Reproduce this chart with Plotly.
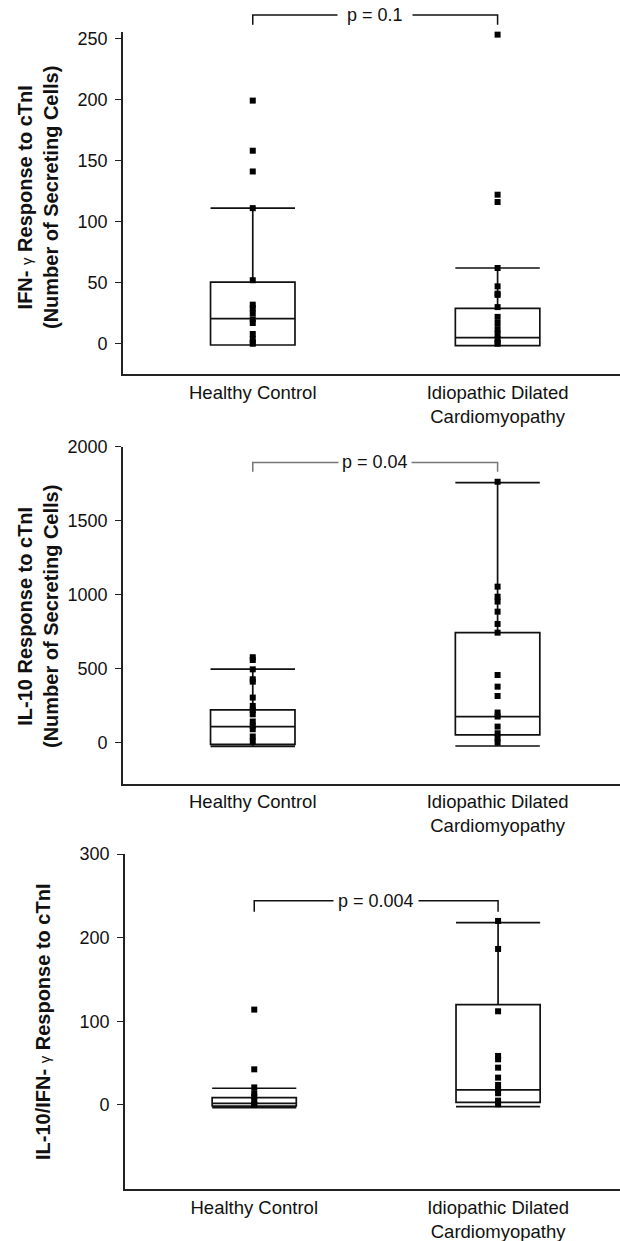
import plotly.graph_objects as go

# ---------------- data ----------------
categories = ["Healthy Control", "Idiopathic Dilated<br>Cardiomyopathy"]
cat_pos = [0, 1]

# Panel 1: IFN-gamma response
ifn_hc_points = [199, 158, 141, 111, 52, 32, 29, 25, 20, 17, 8, 4, 1, 0]
ifn_idc_points = [253, 122, 116, 62, 47, 41, 40, 30, 22, 17, 12, 8, 4, 1, 0]
ifn_q1 = [-1, -1.5]
ifn_median = [20.5, 5]
ifn_q3 = [50.5, 29]
ifn_lower = [-1, -1.5]
ifn_upper = [111, 62]
ifn_ticks = [0, 50, 100, 150, 200, 250]
ifn_p = "p = 0.1"
ifn_bracket = [269, 261]

# Panel 2: IL-10 response
il10_hc_points = [577, 558, 495, 428, 412, 304, 248, 221, 191, 142, 113, 90, 41, 7]
il10_idc_points = [1763, 1054, 986, 953, 885, 802, 743, 457, 378, 315, 203, 176, 108, 63, 29, 0]
il10_q1 = [-12, 52]
il10_median = [108, 176]
il10_q3 = [221, 743]
il10_lower = [-25, -23]
il10_upper = [496, 1757]
il10_ticks = [0, 500, 1000, 1500, 2000]
il10_p = "p = 0.04"
il10_bracket = [1894, 1831]

# Panel 3: IL-10 / IFN-gamma ratio
ratio_hc_points = [114, 42.6, 21, 14, 10, 5, 1, 0]
ratio_idc_points = [220, 186.5, 112, 58.6, 54.6, 44.6, 32.7, 24, 18.7, 14, 5.2, 0.8]
ratio_q1 = [-1.2, 3]
ratio_median = [2, 18]
ratio_q3 = [8.8, 120]
ratio_lower = [-3.2, -2]
ratio_upper = [20, 218]
ratio_ticks = [0, 100, 200, 300]
ratio_p = "p = 0.004"
ratio_bracket = [244, 231]

titles = [
    "<b>IFN-</b> <span style='font-size:15px'>γ</span> <b>Response to cTnI</b><br><b>(Number of Secreting Cells)</b>",
    "<b>IL-10 Response to cTnI</b><br><b>(Number of Secreting Cells)</b>",
    "<b>IL-10/IFN-</b> <span style='font-size:15px'>γ</span> <b>Response to cTnI</b>",
]

# ---------------- layout params ----------------
FONT = "Liberation Sans, Arial, sans-serif"
W, H = 620, 1241
panels = [
    dict(hc=ifn_hc_points, idc=ifn_idc_points, q1=ifn_q1, med=ifn_median, q3=ifn_q3,
         lo=ifn_lower, hi=ifn_upper, ticks=ifn_ticks, yrange=[-25, 255], p=ifn_p,
         br=ifn_bracket, ydom=[1 - 374.3 / H, 1 - 32.2 / H], xdom=[123 / W, 1],
         brcolor="#111", pad=9, title_y=1 - 198 / H, title_x=38 / W),
    dict(hc=il10_hc_points, idc=il10_idc_points, q1=il10_q1, med=il10_median, q3=il10_q3,
         lo=il10_lower, hi=il10_upper, ticks=il10_ticks, yrange=[-280, 2000], p=il10_p,
         br=il10_bracket, ydom=[1 - 784 / H, 1 - 446.7 / H], xdom=[123 / W, 1],
         brcolor="#777", pad=3, title_y=1 - 617 / H, title_x=38 / W),
    dict(hc=ratio_hc_points, idc=ratio_idc_points, q1=ratio_q1, med=ratio_median, q3=ratio_q3,
         lo=ratio_lower, hi=ratio_upper, ticks=ratio_ticks, yrange=[-100.8, 300], p=ratio_p,
         br=ratio_bracket, ydom=[1 - 1189.3 / H, 1 - 854 / H], xdom=[125 / W, 1],
         brcolor="#111", pad=4, title_y=1 - 1022 / H, title_x=43 / W),
]

fig = go.Figure()
shapes = []
annotations = []
XRANGE = [-0.53, 1.5]

for i, pn in enumerate(panels):
    sfx = "" if i == 0 else str(i + 1)
    xa, ya = "x" + sfx, "y" + sfx
    fig.add_trace(go.Box(
        x=cat_pos, q1=pn["q1"], median=pn["med"], q3=pn["q3"],
        lowerfence=pn["lo"], upperfence=pn["hi"],
        width=0.345, whiskerwidth=1, boxpoints=False,
        line=dict(color="#111", width=1.7), fillcolor="rgba(255,255,255,0)",
        showlegend=False, hoverinfo="skip", xaxis=xa, yaxis=ya))
    for pos, pts in zip(cat_pos, [pn["hc"], pn["idc"]]):
        fig.add_trace(go.Scatter(
            x=[pos] * len(pts), y=pts, mode="markers",
            marker=dict(symbol="square", size=6, color="black"),
            cliponaxis=False, showlegend=False, xaxis=xa, yaxis=ya))

    lo_r, hi_r = pn["yrange"]
    f_top = (pn["br"][0] - lo_r) / (hi_r - lo_r)
    f_bot = (pn["br"][1] - lo_r) / (hi_r - lo_r)
    shapes.append(dict(
        type="path", xref=xa, yref=ya + " domain",
        path=f"M {cat_pos[0]},{f_bot} L {cat_pos[0]},{f_top} L {cat_pos[1]},{f_top} L {cat_pos[1]},{f_bot}",
        line=dict(color=pn["brcolor"], width=1.5)))
    annotations.append(dict(
        x=(cat_pos[0] + cat_pos[1]) / 2, xref=xa, y=f_top, yref=ya + " domain",
        text=pn["p"], showarrow=False, bgcolor="white", borderpad=pn["pad"],
        font=dict(family=FONT, size=18, color="#111"), xanchor="center", yanchor="middle"))
    annotations.append(dict(
        x=pn["title_x"], y=pn["title_y"], xref="paper", yref="paper",
        text=titles[i], textangle=-90, showarrow=False,
        font=dict(family=FONT, size=20, color="#111"), xanchor="center", yanchor="middle"))

    fig.layout["xaxis" + sfx] = dict(
        domain=pn["xdom"], anchor=ya, range=XRANGE, showline=True, linecolor="#222",
        linewidth=2, ticks="", tickvals=cat_pos, ticktext=categories, automargin=False,
        tickfont=dict(family=FONT, size=18.5, color="#111"), showgrid=False, zeroline=False)
    fig.layout["yaxis" + sfx] = dict(
        domain=pn["ydom"], anchor=xa, range=pn["yrange"], showline=True, linecolor="#222",
        linewidth=1.6, ticks="outside", ticklen=6, tickwidth=1.4, tickcolor="#222",
        tickvals=pn["ticks"], tickfont=dict(family=FONT, size=18, color="#111"),
        automargin=False, ticklabelstandoff=4, showgrid=False, zeroline=False)

fig.update_layout(
    width=W, height=H, margin=dict(l=0, r=0, t=0, b=0, autoexpand=False),
    paper_bgcolor="white", plot_bgcolor="white",
    shapes=shapes, annotations=annotations, showlegend=False,
    font=dict(family=FONT, color="#111"))

fig.write_html("out.html", config={"displayModeBar": False},
               post_script="document.body.style.margin='0';")
